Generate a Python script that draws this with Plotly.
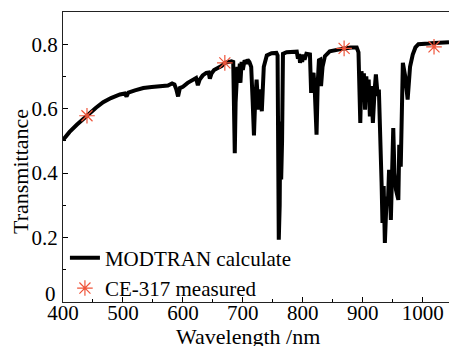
import plotly.graph_objects as go

wavelength = [400, 411, 423, 433, 442, 455, 467, 480, 495, 503, 506, 509, 520, 534, 548, 562, 575,
              582, 586, 589, 592, 595, 600, 608, 617, 622, 625, 628, 633, 639, 643, 645, 648, 652,
              659, 665, 670, 676, 681, 684, 686.6, 688, 689, 691, 693, 695, 696, 698, 700, 703, 706,
              708, 711, 714, 716.5, 718.6, 720.5, 723, 726, 729, 731.7, 733, 735, 740, 748, 756, 758,
              760, 761.5, 762.5, 764, 765.5, 767, 773, 782, 790, 792, 794, 795.5, 797, 799, 801, 803,
              806, 812, 814, 816, 818, 820, 823, 825, 827, 829, 830.5, 833, 837, 845, 855, 862, 870,
              880, 890, 893, 896, 898, 900, 902, 904, 906, 908, 910, 912, 914, 917, 920, 922, 925,
              927, 931.5, 933, 935, 937, 940, 942, 944, 947, 951, 953, 955.6, 959.5, 961, 963.5, 967,
              971, 975, 977, 979, 983.5, 988, 993, 1000, 1010, 1020, 1030, 1044]
transmittance = [0.503, 0.528, 0.550, 0.567, 0.581, 0.603, 0.620, 0.633, 0.644, 0.647, 0.638, 0.650,
                 0.657, 0.664, 0.667, 0.670, 0.672, 0.678, 0.675, 0.660, 0.638, 0.664, 0.668, 0.680,
                 0.692, 0.695, 0.673, 0.690, 0.703, 0.711, 0.712, 0.693, 0.710, 0.720, 0.727, 0.733,
                 0.742, 0.745, 0.747, 0.745, 0.462, 0.62, 0.70, 0.73, 0.69, 0.74, 0.68, 0.745, 0.72,
                 0.750, 0.740, 0.752, 0.745, 0.73, 0.62, 0.517, 0.62, 0.69, 0.597, 0.66, 0.592, 0.68,
                 0.73, 0.765, 0.772, 0.773, 0.765, 0.193, 0.30, 0.56, 0.38, 0.50, 0.77, 0.775, 0.777,
                 0.777, 0.755, 0.77, 0.742, 0.765, 0.745, 0.768, 0.752, 0.77, 0.768, 0.649, 0.70,
                 0.711, 0.66, 0.519, 0.68, 0.75, 0.752, 0.67, 0.73, 0.763, 0.778, 0.782, 0.786, 0.787,
                 0.790, 0.790, 0.775, 0.556, 0.716, 0.68, 0.71, 0.597, 0.70, 0.64, 0.69, 0.576, 0.67,
                 0.556, 0.66, 0.706, 0.64, 0.659, 0.37, 0.245, 0.36, 0.183, 0.327, 0.30, 0.41, 0.255,
                 0.54, 0.40, 0.348, 0.317, 0.488, 0.42, 0.742, 0.70, 0.628, 0.70, 0.73, 0.768, 0.790,
                 0.800, 0.802, 0.802, 0.804, 0.804, 0.806]

measured_wl = [440, 670, 869, 1019]
measured_t = [0.578, 0.742, 0.787, 0.792]

x_ticks = [400, 500, 600, 700, 800, 900, 1000]
y_ticks = [0, 0.2, 0.4, 0.6, 0.8]
y_ticktext = ["", "0.2", "0.4", "0.6", "0.8"]

FONT = "Liberation Serif"

fig = go.Figure()
fig.add_trace(go.Scatter(x=wavelength, y=transmittance, mode="lines",
                         line=dict(color="black", width=4),
                         name="MODTRAN calculate"))
fig.add_trace(go.Scatter(x=measured_wl, y=measured_t, mode="markers",
                         marker=dict(symbol="asterisk-open", size=13,
                                     line=dict(color="#f04545", width=1.2)),
                         name="CE-317 measured"))

fig.update_layout(
    width=449, height=346,
    margin=dict(l=63, r=0, t=12, b=44),
    paper_bgcolor="white", plot_bgcolor="white",
    font=dict(family=FONT, size=21, color="black"),
    showlegend=True,
    legend=dict(x=0.005, y=0.222, xanchor="left", yanchor="top",
                bgcolor="rgba(0,0,0,0)", font=dict(family=FONT, size=21),
                tracegroupgap=0, itemwidth=30),
    xaxis=dict(range=[400, 1044], tickvals=x_ticks, ticks="inside", ticklen=5,
               tickcolor="black", showline=True, linecolor="#222", linewidth=1,
               mirror=True, showgrid=False, zeroline=False, ticklabelstandoff=-8,
               minor=dict(dtick=50, ticks="inside", ticklen=3, tickcolor="black"),
               tickfont=dict(family=FONT, size=21)),
    yaxis=dict(range=[0, 0.9], tickvals=y_ticks, ticktext=y_ticktext, ticks="inside",
               ticklen=5, tickcolor="black", showline=True, linecolor="#222",
               linewidth=1, mirror=False, showgrid=False, zeroline=False,
               minor=dict(dtick=0.1, ticks="inside", ticklen=3, tickcolor="black"),
               tickfont=dict(family=FONT, size=21)),
    annotations=[
        dict(text="0", xref="paper", yref="y", x=-5 / 386, y=0, xanchor="right",
             yanchor="middle", yshift=8, showarrow=False, font=dict(family=FONT, size=21)),
        dict(text="Wavelength /nm", xref="paper", yref="paper", x=(248 - 63) / 386,
             y=-0.118, xanchor="center", yanchor="middle", showarrow=False,
             font=dict(family=FONT, size=22)),
        dict(text="Transmittance", xref="paper", yref="paper", x=-(63 - 20) / 386,
             y=(302 - 172) / 290, xanchor="center", yanchor="middle", textangle=-90,
             showarrow=False, font=dict(family=FONT, size=22)),
    ],
)

fig.write_html("out.html")
